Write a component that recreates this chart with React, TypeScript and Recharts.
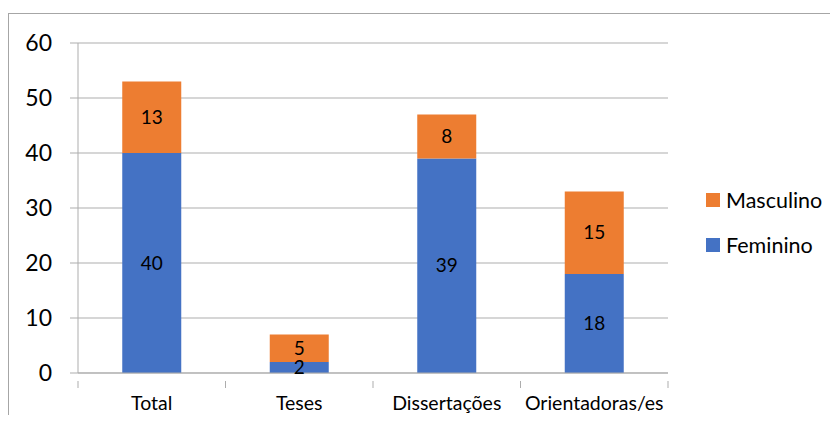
import { BarChart, Bar, XAxis, YAxis, CartesianGrid, LabelList } from "recharts";

const categories = ["Total", "Teses", "Dissertações", "Orientadoras/es"];
const feminino = [40, 2, 39, 18];
const masculino = [13, 5, 8, 15];
const yTicks = [0, 10, 20, 30, 40, 50, 60];

const BLUE = "#4472C4";
const ORANGE = "#ED7D31";
const GRID = "#adadad";
const FONT = "Lato, 'Open Sans', sans-serif";

const W = 838;
const H = 423;
const PLOT_LEFT = 78;
const PLOT_RIGHT = 668;
const BAND = (PLOT_RIGHT - PLOT_LEFT) / categories.length;

const data = categories.map((name, i) => ({
  name,
  feminino: feminino[i],
  masculino: masculino[i],
}));

// category label at the centre, tick marks at the band edges like Excel
function CategoryTick(props: any) {
  const { x, y, payload, index } = props;
  const last = index === categories.length - 1;
  return (
    <g>
      <line x1={x - BAND / 2} x2={x - BAND / 2} y1={y} y2={y + 7} stroke={GRID} />
      {last && <line x1={x + BAND / 2} x2={x + BAND / 2} y1={y} y2={y + 7} stroke={GRID} />}
      <text x={x} y={y + 29} textAnchor="middle" fontSize={19.5} fontFamily={FONT} fill="#000">
        {payload.value}
      </text>
    </g>
  );
}

const legendItems = [
  { label: "Masculino", color: ORANGE },
  { label: "Feminino", color: BLUE },
];

export default function App() {
  return (
    <div style={{ margin: -8, width: W, height: H, position: "relative", overflow: "hidden", background: "#fff" }}>
      <div
        style={{
          position: "absolute",
          left: 8,
          top: 13,
          width: 900,
          height: 500,
          border: "1px solid #a6a6a6",
        }}
      />
      <div style={{ position: "absolute", left: 0, top: 0 }}>
        <BarChart
          width={W}
          height={H}
          data={data}
          margin={{ top: 43, right: W - PLOT_RIGHT, bottom: 0, left: 0 }}
          barCategoryGap="30%"
        >
          <CartesianGrid vertical={false} stroke={GRID} />
          <XAxis
            dataKey="name"
            tick={<CategoryTick />}
            tickLine={false}
            axisLine={{ stroke: GRID }}
            interval={0}
            height={H - 373}
          />
          <YAxis
            width={PLOT_LEFT}
            domain={[0, 60]}
            ticks={yTicks}
            tickSize={8}
            tickMargin={18}
            tickLine={{ stroke: GRID }}
            axisLine={{ stroke: GRID }}
            tick={{ fontSize: 23, fontFamily: FONT, fill: "#000" }}
          />
          <Bar dataKey="feminino" stackId="a" fill={BLUE} isAnimationActive={false}>
            <LabelList dataKey="feminino" position="center" fontSize={19} fontFamily={FONT} fill="#000" />
          </Bar>
          <Bar dataKey="masculino" stackId="a" fill={ORANGE} isAnimationActive={false}>
            <LabelList dataKey="masculino" position="center" fontSize={19} fontFamily={FONT} fill="#000" />
          </Bar>
        </BarChart>
      </div>
      <div style={{ position: "absolute", left: 706, top: 177, fontFamily: FONT, fontSize: 21.5, color: "#000" }}>
        {legendItems.map((it) => (
          <div key={it.label} style={{ display: "flex", alignItems: "center", height: 45 }}>
            <span style={{ width: 14, height: 14, background: it.color, marginRight: 6 }} />
            <span>{it.label}</span>
          </div>
        ))}
      </div>
    </div>
  );
}
